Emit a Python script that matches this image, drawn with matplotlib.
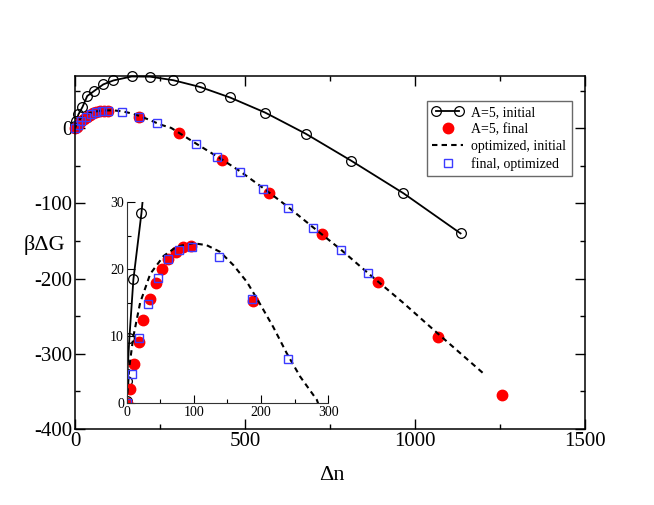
import numpy as np
import matplotlib.pyplot as plt
from matplotlib.ticker import MultipleLocator
from matplotlib.legend_handler import HandlerLine2D

plt.rcParams['font.family'] = ['Liberation Serif', 'DejaVu Serif']
plt.rcParams['axes.unicode_minus'] = False

## A=5, initial
n_init = [0, 0.5, 4, 10, 22, 36, 56, 83, 113, 167, 221, 289, 368, 456, 559, 679, 812, 966, 1134]
g_init = [0.4, 3.4, 9.7, 18.5, 28.4, 43, 49.6, 58.4, 63.7, 69, 68.7, 64, 55, 41, 21, -7.3, -43, -86.4, -139.8]

## A=5, final
n_final = [0, 5, 11, 18, 25, 34, 44, 52, 62, 73, 84, 96, 188, 305, 431, 571, 727, 892, 1067, 1255]
g_final = [0, 2.2, 5.8, 9.2, 12.5, 15.5, 18, 20, 21.5, 22.6, 23.3, 23.5, 15.3, -6.4, -42, -86.4, -141, -205, -277, -355]

## optimized, initial (dashed)
n_opt = [0, 4, 10, 20, 35, 55, 75, 99, 119, 139, 159, 179, 198, 218, 238, 258, 283,
         355, 434, 485, 555, 625, 701, 781, 868, 965, 1067, 1201]
g_opt = [0, 5.5, 10, 15, 19.3, 22, 23.4, 23.9, 23.6, 22.6, 20.6, 18.1, 14.9, 11.4, 7.5, 4.0, 0.5,
         -20, -42, -57, -80, -104, -132, -161, -195, -232, -273, -326]

## final, optimized
n_sq = [0, 7.4, 19, 32, 46, 61, 78, 97, 138, 187, 240, 355, 418, 485, 554, 626, 701, 781, 863]
g_sq = [0, 4.3, 9.7, 14.8, 18.7, 21.5, 22.9, 23.4, 21.9, 15.6, 6.6, -20.7, -37.6, -58.4, -80.7, -105.6, -133, -162, -193]


def draw(ax, clip):
    l1, = ax.plot(n_init, g_init, '-o', color='black', lw=1.3, mfc='none', mec='black',
                  mew=0.9, ms=7, clip_on=clip, label='A=5, initial')
    l2, = ax.plot(n_final, g_final, 'o', color='red', mec='red', ms=7.5, clip_on=clip,
                  label='A=5, final')
    l3, = ax.plot(n_opt, g_opt, '--', color='black', lw=1.5, dashes=(2.6, 2.0), clip_on=True,
                  label='optimized, initial')
    l4, = ax.plot(n_sq, g_sq, 's', mfc='none', mec='#3b3bff', mew=1.0, ms=6, clip_on=clip,
                  label='final, optimized')
    return l1, l2, l3, l4


fig = plt.figure(figsize=(6.54, 5.05), dpi=100)
ax = fig.add_axes([0.1147, 0.1505, 0.7798, 0.6996])
l1, l2, l3, l4 = draw(ax, False)

ax.set_xlim(0, 1500)
ax.set_ylim(-400, 70)
ax.xaxis.set_major_locator(MultipleLocator(500))
ax.xaxis.set_minor_locator(MultipleLocator(250))
ax.yaxis.set_major_locator(MultipleLocator(100))
ax.yaxis.set_minor_locator(MultipleLocator(50))
ax.tick_params(which='both', direction='in', top=True, right=True, labelsize=15, pad=2)
ax.tick_params(which='major', length=7, width=1)
ax.tick_params(which='minor', length=3.5, width=1)
for s in ax.spines.values():
    s.set_linewidth(1.1)

ax.set_xlabel('Δn', fontsize=16)
ax.xaxis.set_label_coords(0.503, -0.105)
ax.set_ylabel('βΔG', fontsize=16, rotation=0, ha='center', va='center')
ax.yaxis.set_label_coords(-0.06, 0.52)

leg = ax.legend(handles=[l1, l2, l3, l4], loc='upper right', bbox_to_anchor=(0.974, 0.929),
                borderaxespad=0, fontsize=10, frameon=True, fancybox=False, numpoints=1,
                handlelength=2.2, borderpad=0.4, labelspacing=0.28, handletextpad=0.6,
                handler_map={l1: HandlerLine2D(numpoints=2)})
leg.get_frame().set_edgecolor('#444444')
leg.get_frame().set_linewidth(1.0)

## inset
axi = fig.add_axes([0.1937, 0.2014, 0.3083, 0.398])
axi.set_facecolor('none')
draw(axi, True)
axi.set_xlim(0, 300)
axi.set_ylim(0, 30)
axi.xaxis.set_major_locator(MultipleLocator(100))
axi.xaxis.set_minor_locator(MultipleLocator(50))
axi.yaxis.set_major_locator(MultipleLocator(10))
axi.yaxis.set_minor_locator(MultipleLocator(5))
axi.spines['top'].set_visible(False)
axi.spines['right'].set_visible(False)
axi.tick_params(which='both', direction='in', labelsize=10, pad=2)
axi.tick_params(which='major', length=6, width=0.8)
axi.tick_params(which='minor', length=3, width=0.8)
for s in ['left', 'bottom']:
    axi.spines[s].set_linewidth(0.8)
    axi.spines[s].set_color('#333333')

fig.savefig('out.png', dpi=100)
